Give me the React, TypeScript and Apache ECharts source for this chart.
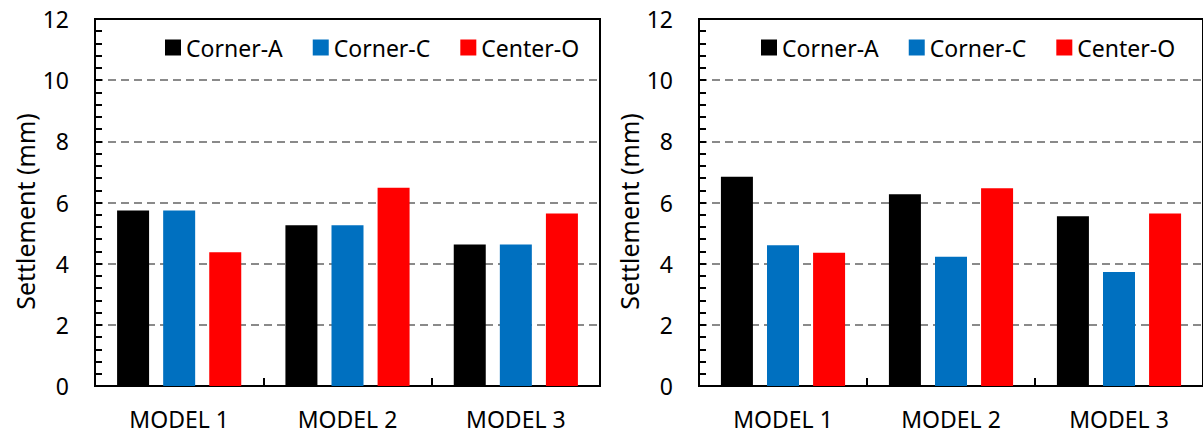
import React, { useEffect, useRef } from "react";
import * as echarts from "echarts";

const categories = ["MODEL 1", "MODEL 2", "MODEL 3"];
const seriesNames = ["Corner-A", "Corner-C", "Center-O"];
const seriesColors = ["#000000", "#0070C0", "#FF0000"];

// Left chart
const leftCornerA = [5.74, 5.26, 4.63];
const leftCornerC = [5.74, 5.26, 4.63];
const leftCenterO = [4.37, 6.48, 5.64];

// Right chart
const rightCornerA = [6.84, 6.27, 5.55];
const rightCornerC = [4.6, 4.23, 3.73];
const rightCenterO = [4.36, 6.47, 5.64];

const yMin = 0;
const yMax = 12;
const yInterval = 2;
const yAxisTitle = "Settlement (mm)";

const FONT = "Noto Sans";

export default function App() {
  const ref = useRef<HTMLDivElement>(null);

  useEffect(() => {
    if (!ref.current) return;
    const chart = echarts.init(ref.current, null, { renderer: "svg" });

    const grids = [
      { left: 95, top: 19, width: 505, height: 367 },
      { left: 699, top: 19, width: 506, height: 367 },
    ];

    const xAxis = grids.map((_, i) => ({
      type: "category",
      gridIndex: i,
      data: categories,
      axisLine: { lineStyle: { color: "#000", width: 2 } },
      axisTick: { show: true, inside: true, length: 8, lineStyle: { color: "#000", width: 2 } },
      axisLabel: { color: "#000", fontSize: 23, fontFamily: FONT, margin: 21 },
    }));

    const yAxis = grids.map((_, i) => ({
      type: "value",
      gridIndex: i,
      min: yMin,
      max: yMax,
      interval: yInterval,
      name: yAxisTitle,
      nameLocation: "middle",
      nameGap: 58,
      nameRotate: 90,
      nameTextStyle: { color: "#000", fontSize: 25, fontFamily: FONT, padding: [0, 18, 0, 0] },
      axisLine: { show: true, lineStyle: { color: "#000", width: 2 } },
      axisTick: { show: true, inside: true, length: 7, lineStyle: { color: "#000", width: 2 } },
      minorTick: { show: true, splitNumber: 5, length: 7, lineStyle: { color: "#000", width: 2 } },
      axisLabel: { color: "#000", fontSize: 23, fontFamily: FONT, margin: 26 },
      splitLine: {
        show: true,
        showMinLine: false,
        showMaxLine: false,
        lineStyle: { color: "#8a8a8a", width: 2, type: [8, 5] },
      },
    }));

    const leftData = [leftCornerA, leftCornerC, leftCenterO];
    const rightData = [rightCornerA, rightCornerC, rightCenterO];

    const series: any[] = [];
    [leftData, rightData].forEach((group, gi) => {
      group.forEach((vals, si) => {
        series.push({
          type: "bar",
          name: seriesNames[si],
          xAxisIndex: gi,
          yAxisIndex: gi,
          data: vals,
          barWidth: 32,
          barGap: "44%",
          itemStyle: { color: seriesColors[si] },
        });
      });
    });

    const legendBase = {
      orient: "horizontal",
      top: 36,
      padding: 0,
      itemWidth: 16,
      itemHeight: 16,
      itemGap: 30,
      icon: "rect",
      data: seriesNames,
      textStyle: { color: "#000", fontSize: 23, fontFamily: FONT },
      selectedMode: false,
    };

    chart.setOption({
      animation: false,
      textStyle: { fontFamily: FONT },
      grid: grids.map((g) => ({
        ...g,
        show: true,
        borderColor: "#000",
        borderWidth: 2,
        backgroundColor: "transparent",
      })),
      legend: [
        { ...legendBase, left: 165 },
        { ...legendBase, left: 761 },
      ],
      xAxis,
      yAxis,
      series,
    });

    return () => chart.dispose();
  }, []);

  return (
    <div
      ref={ref}
      style={{ position: "absolute", left: 0, top: 0, width: 1203, height: 434, background: "#fff" }}
    />
  );
}
